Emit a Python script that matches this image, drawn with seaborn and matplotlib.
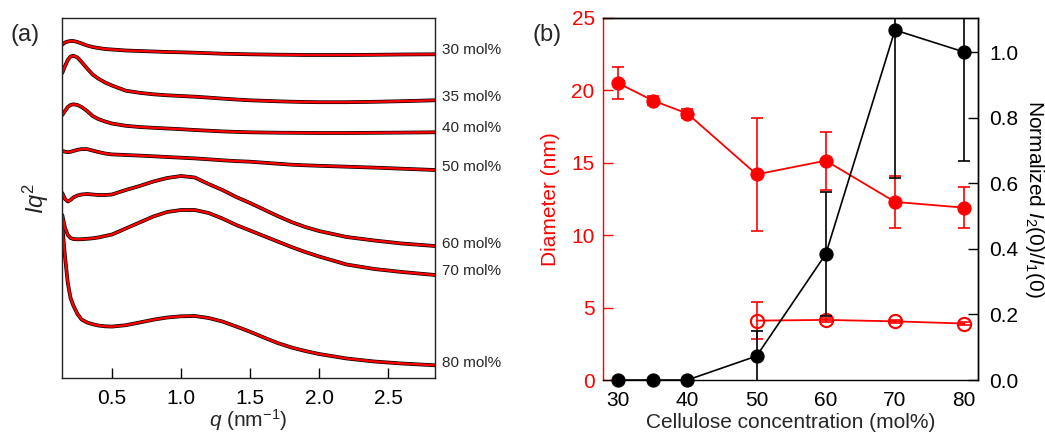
import matplotlib
matplotlib.use("Agg")
import matplotlib.pyplot as plt
import matplotlib.transforms as mtransforms
import numpy as np
import pandas as pd
import seaborn as sns

# ---------------- data: panel (a) ----------------
q = [0.14, 0.16, 0.18, 0.20, 0.22, 0.25, 0.28, 0.32, 0.36, 0.40, 0.45, 0.50,
     0.60, 0.70, 0.80, 0.90, 1.00, 1.10, 1.20, 1.30, 1.40, 1.50, 1.60, 1.70,
     1.80, 1.90, 2.00, 2.20, 2.40, 2.60, 2.84]

iq2_30 = [333.5, 335.5, 336.5, 337, 337, 336, 334.5, 332.5, 331, 330, 329, 328.5,
          327.5, 327, 326.5, 326, 325.7, 325.3, 324.8, 324.3, 324, 323.7, 323.5, 323.3,
          323.2, 323, 323, 323, 323.2, 323.5, 323.7]
iq2_35 = [305, 312, 318, 321.5, 322.3, 320.5, 316, 309.5, 303.5, 299.5, 295.5, 292.5,
          287.3, 285.2, 283.7, 282.7, 282, 281.3, 280.4, 279.4, 278.5, 277.7, 277.2, 276.7,
          276.3, 276, 275.8, 275.8, 276.2, 276.8, 277.7]
iq2_40 = [263, 267, 271, 273, 273.7, 273, 271, 267, 262, 259, 256.5, 254.5,
          252.2, 251, 250.2, 249.5, 248.8, 248, 247.3, 246.6, 246.1, 245.7, 245.5, 245.3,
          245.2, 245.1, 245, 245, 245.2, 245.4, 245.7]
iq2_50 = [227, 226.3, 225.8, 226.2, 227, 228.2, 228.9, 228.9, 227.4, 226, 224.5, 223.6,
          223, 222.4, 221.7, 221, 220.3, 219.6, 218.7, 217.7, 216.9, 216.3, 215.3, 214.3,
          213.3, 212.7, 212.2, 211.3, 210.4, 209.3, 208]
iq2_60 = [185, 179, 176.5, 178, 180.5, 182.5, 183.5, 184, 183.5, 183, 183, 183.5,
          188, 192, 196.5, 200, 202, 200.5, 194, 188, 181, 175, 168.5, 162,
          156, 151, 147, 141, 137.5, 134.5, 132]
iq2_70 = [163, 150, 143, 140, 139, 138.7, 138.8, 139.2, 139.7, 140.5, 142, 143.5,
          149.5, 155.5, 161.5, 166, 168, 168, 165, 159.5, 153, 147.5, 142, 136.5,
          131, 126, 121.5, 113.5, 109, 106, 103]
iq2_80 = [152, 121, 95, 80, 72.5, 64, 58.5, 55.5, 53.8, 52.5, 51.7, 51.4,
          52.8, 55.5, 58.3, 60.5, 61.7, 62, 60, 56.5, 51.5, 46.3, 40.5, 35,
          30.5, 27, 24, 19.5, 16.5, 14.5, 12.7]

series_names = ["30 mol%", "35 mol%", "40 mol%", "50 mol%", "60 mol%", "70 mol%", "80 mol%"]
series_vals = [iq2_30, iq2_35, iq2_40, iq2_50, iq2_60, iq2_70, iq2_80]
label_y = [328, 281.3, 250.3, 211.3, 134, 107.3, 14.7]
q_ticks = [0.5, 1.0, 1.5, 2.0, 2.5]
q_tick_labels = ["0.5", "1.0", "1.5", "2.0", "2.5"]

# ---------------- data: panel (b) ----------------
conc = [30, 35, 40, 50, 60, 70, 80]
diam_large = [20.5, 19.3, 18.4, 14.2, 15.15, 12.3, 11.9]
diam_large_err = [1.1, 0.3, 0.3, 3.9, 2.0, 1.8, 1.4]
conc_small = [50, 60, 70, 80]
diam_small = [4.1, 4.15, 4.05, 3.9]
diam_small_err = [1.3, 0.15, 0.12, 0.1]
ratio = [0, 0, 0, 0.073, 0.384, 1.067, 1.0]
ratio_err = [0, 0, 0, 0.076, 0.19, 0.452, 0.333]
conc_ticks = [30, 40, 50, 60, 70, 80]
diam_ticks = [0, 5, 10, 15, 20, 25]
ratio_ticks = [0.0, 0.2, 0.4, 0.6, 0.8, 1.0]

# ---------------- style ----------------
sns.set_theme(style="white")
plt.rcParams["font.family"] = ["Liberation Sans", "DejaVu Sans"]
plt.rcParams["mathtext.fontset"] = "custom"
plt.rcParams["mathtext.rm"] = "Liberation Sans"
plt.rcParams["mathtext.it"] = "Liberation Sans:italic"
plt.rcParams["axes.linewidth"] = 1.0

FS = 15
RED = "#ff0000"

fig = plt.figure(figsize=(10.45, 4.34), dpi=100)
axa = fig.add_axes([62 / 1045, 56 / 434, 373 / 1045, 360 / 434])
axb = fig.add_axes([603 / 1045, 54 / 434, 375 / 1045, 362 / 434])

# ---------------- panel (a) ----------------
rows = []
for name, vals in zip(series_names, series_vals):
    for qq, vv in zip(q, vals):
        rows.append({"q": qq, "v": vv, "series": name})
df = pd.DataFrame(rows)

sns.lineplot(data=df, x="q", y="v", units="series", estimator=None,
             color="black", lw=2.7, ax=axa, legend=False)
sns.lineplot(data=df, x="q", y="v", units="series", estimator=None,
             color=RED, lw=1.7, ax=axa, legend=False)

axa.set_xlim(0.138, 2.84)
axa.set_ylim(0, 360)
axa.set_xticks(q_ticks)
axa.set_xticklabels(q_tick_labels)
axa.set_yticks([])
axa.tick_params(axis="x", direction="in", length=7, width=1.0, pad=8,
                labelsize=FS, colors="black", bottom=True, top=False)
for sp in axa.spines.values():
    sp.set_color("#222222")
    sp.set_linewidth(1.0)
axa.set_xlabel(r"$q$ (nm$^{-1}$)", fontsize=FS, labelpad=-1)
axa.set_ylabel(r"$Iq^{2}$", fontsize=17, labelpad=8)

trans = mtransforms.blended_transform_factory(axa.transAxes, axa.transData)
for name, ly in zip(series_names, label_y):
    axa.text(1.018, ly, name, transform=trans, fontsize=11, va="center", ha="left")

# ---------------- panel (b) ----------------
ax2 = axb.twinx()
ax2.set_position(axb.get_position())

sns.lineplot(x=conc, y=diam_large, color=RED, lw=1.3, marker="o", markersize=9.5,
             markeredgecolor=RED, markerfacecolor=RED, ax=axb, clip_on=False)
axb.errorbar(conc, diam_large, yerr=diam_large_err, fmt="none", ecolor=RED,
             elinewidth=1.2, capsize=4, capthick=1.2)
sns.lineplot(x=conc_small, y=diam_small, color=RED, lw=1.3, marker="o", markersize=9.5,
             markeredgecolor=RED, markerfacecolor="none", markeredgewidth=1.5, ax=axb)
axb.errorbar(conc_small, diam_small, yerr=diam_small_err, fmt="none", ecolor=RED,
             elinewidth=1.2, capsize=4, capthick=1.2)

ax2.errorbar(conc, ratio, yerr=ratio_err, fmt="none", ecolor="black",
             elinewidth=1.2, capsize=4, capthick=1.2)
sns.lineplot(x=conc, y=ratio, color="black", lw=1.2, marker="o", markersize=9.5,
             markeredgecolor="black", markerfacecolor="black", ax=ax2, clip_on=False)

axb.set_xlim(27.8, 82.0)
axb.set_ylim(0, 25)
ax2.set_ylim(0, 1.1037)
axb.set_xticks(conc_ticks)
axb.set_yticks(diam_ticks)
ax2.set_yticks(ratio_ticks)
ax2.set_yticklabels([f"{t:.1f}" for t in ratio_ticks])

axb.tick_params(axis="x", direction="in", length=7, width=1.0, pad=8,
                labelsize=FS, colors="black", top=False)
axb.tick_params(axis="y", direction="in", length=7, width=1.0, pad=6,
                labelsize=FS, colors=RED, right=False)
ax2.tick_params(axis="y", direction="in", length=7, width=1.0, pad=8,
                labelsize=FS, colors="black")
ax2.tick_params(axis="x", bottom=False, top=False)

for sp in ["top", "bottom", "right"]:
    axb.spines[sp].set_color("black")
axb.spines["left"].set_color(RED)
ax2.spines["left"].set_visible(False)
ax2.spines["right"].set_color("black")
ax2.spines["top"].set_color("black")
ax2.spines["bottom"].set_visible(False)

axb.set_xlabel("Cellulose concentration (mol%)", fontsize=FS, labelpad=2)
axb.set_ylabel("Diameter (nm)", fontsize=FS, color=RED, labelpad=8)
ax2.set_ylabel(r"Normalized $I_2$(0)/$I_1$(0)", fontsize=FS, rotation=270,
               labelpad=20, color="black")

fig.text(11 / 1045, 1 - 35 / 434, "(a)", fontsize=17, va="center", ha="left")
fig.text(532 / 1045, 1 - 35 / 434, "(b)", fontsize=17, va="center", ha="left")

fig.savefig("out.png", dpi=100)
